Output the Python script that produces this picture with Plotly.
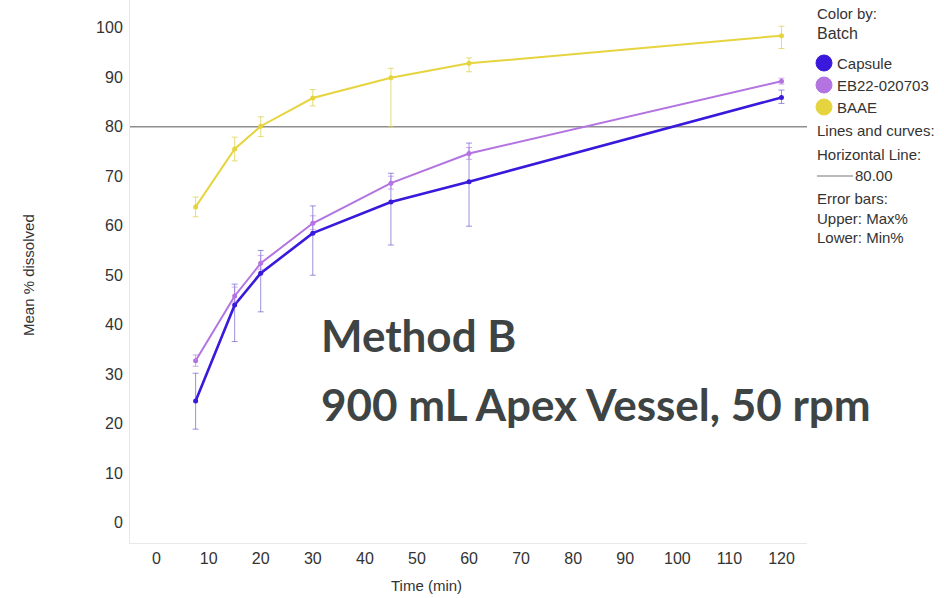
import plotly.graph_objects as go

# Sampling times (min)
times = [7.5, 15, 20, 30, 45, 60, 120]

# Mean % dissolved with max/min per batch
capsule_mean = [24.6, 44.0, 50.4, 58.5, 64.8, 68.9, 85.9]
capsule_max = [30.2, 48.2, 55.0, 64.0, 70.6, 76.7, 87.4]
capsule_min = [18.9, 36.6, 42.6, 50.0, 56.1, 59.9, 84.7]

eb22_mean = [32.7, 45.8, 52.4, 60.5, 68.6, 74.6, 89.2]
eb22_max = [33.9, 47.6, 54.0, 62.0, 70.0, 75.8, 89.8]
eb22_min = [31.6, 44.6, 51.2, 59.2, 67.4, 73.4, 88.6]

baae_mean = [63.8, 75.5, 80.1, 85.8, 89.9, 92.8, 98.4]
baae_max = [65.8, 77.9, 82.0, 87.5, 91.8, 93.9, 100.3]
baae_min = [61.8, 73.1, 78.0, 84.2, 80.0, 91.1, 95.8]

batch_names = ["Capsule", "EB22-020703", "BAAE"]
batch_colors = ["#3a18dc", "#b374e2", "#e6d43e"]
line_widths = [2.6, 2.0, 2.0]
bar_colors = ["rgba(70,60,190,0.55)", "rgba(170,120,220,0.6)", "rgba(220,205,70,0.7)"]

THRESHOLD = 80.0
x_ticks = list(range(0, 130, 10))
y_ticks = list(range(0, 110, 10))

W, H = 944, 598
L, R, T, B = 130, 807, 0, 543  # plot area in pixels


def px(x):
    return (x - L) / (R - L)


def py(y):
    return (B - y) / (B - T)


series = [
    (capsule_mean, capsule_max, capsule_min),
    (eb22_mean, eb22_max, eb22_min),
    (baae_mean, baae_max, baae_min),
]

fig = go.Figure()
for name, color, lw, bc, (m, hi, lo) in zip(batch_names, batch_colors, line_widths, bar_colors, series):
    fig.add_trace(go.Scatter(
        x=times, y=m, name=name, mode="lines+markers",
        line=dict(color=color, width=lw),
        marker=dict(color=color, size=5),
        error_y=dict(
            type="data", symmetric=False,
            array=[h - v for h, v in zip(hi, m)],
            arrayminus=[v - l for v, l in zip(m, lo)],
            color=bc, thickness=1, width=3,
        ),
        showlegend=False,
    ))

# 80 % reference line
fig.add_shape(type="line", xref="paper", yref="y", x0=0, x1=1, y0=THRESHOLD, y1=THRESHOLD,
              line=dict(color="#8e8e8e", width=1.5), layer="below")

txt = "#333333"
font = "Liberation Sans, Arial, sans-serif"
ann = []


def label(text, x, y, size=15, color=txt, **kw):
    ann.append(dict(text=text, x=px(x), y=py(y), xref="paper", yref="paper",
                    xanchor="left", yanchor="middle", showarrow=False,
                    font=dict(family=font, size=size, color=color), **kw))


# Legend block
label("Color by:", 815, 13)
label("Batch", 815, 34, size=16)
for i, (name, color) in enumerate(zip(batch_names, batch_colors)):
    yy = [63, 85, 107][i]
    fig.add_shape(type="circle", xref="paper", yref="paper", xsizemode="pixel", ysizemode="pixel",
                  xanchor=px(824), yanchor=py(yy), x0=-8, x1=8, y0=-8, y1=8,
                  fillcolor=color, line=dict(color=color, width=1))
    label(name, 835, yy)
label("Lines and curves:", 815, 130)
label("Horizontal Line:", 815, 154)
fig.add_shape(type="line", xref="paper", yref="paper", x0=px(817), x1=px(853), y0=py(176), y1=py(176),
              line=dict(color="#777777", width=1))
label(f"{THRESHOLD:.2f}", 853, 176)
label("Error bars:", 815, 199)
label("Upper: Max%", 815, 218)
label("Lower: Min%", 815, 237)

# Axis titles
ann.append(dict(text="Mean % dissolved", x=px(29), y=py(275), xref="paper", yref="paper",
                textangle=-90, showarrow=False, xanchor="center", yanchor="middle",
                font=dict(family=font, size=15, color=txt)))
ann.append(dict(text="Time (min)", x=px(426), y=py(585), xref="paper", yref="paper",
                showarrow=False, xanchor="center", yanchor="middle",
                font=dict(family=font, size=15, color=txt)))

# Method description
big = dict(family="Lato, Open Sans, sans-serif", size=44, color="#3e4444")
ann.append(dict(text="<b>Method B</b>", x=px(319), y=py(335), xref="paper", yref="paper",
                showarrow=False, xanchor="left", yanchor="middle", font=big))
ann.append(dict(text="<b>900 mL Apex Vessel, 50 rpm</b>", x=px(319), y=py(404), xref="paper", yref="paper",
                showarrow=False, xanchor="left", yanchor="middle", font=big))

fig.update_layout(
    width=W, height=H,
    margin=dict(l=L, r=W - R, t=T, b=H - B),
    paper_bgcolor="white", plot_bgcolor="white",
    annotations=ann,
    xaxis=dict(range=[-5.1, 124.9], tickvals=x_ticks, showgrid=False, zeroline=False,
               showline=True, linecolor="#e8e8e8", linewidth=1,
               tickfont=dict(family=font, size=16, color=txt), ticks="", ticklabelstandoff=1),
    yaxis=dict(range=[-4.1, 105.6], tickvals=y_ticks, showgrid=False, zeroline=False,
               showline=True, linecolor="#e8e8e8", linewidth=1,
               tickfont=dict(family=font, size=16, color=txt), ticks="", ticklabelstandoff=3),
)

fig.write_html("out.html")
